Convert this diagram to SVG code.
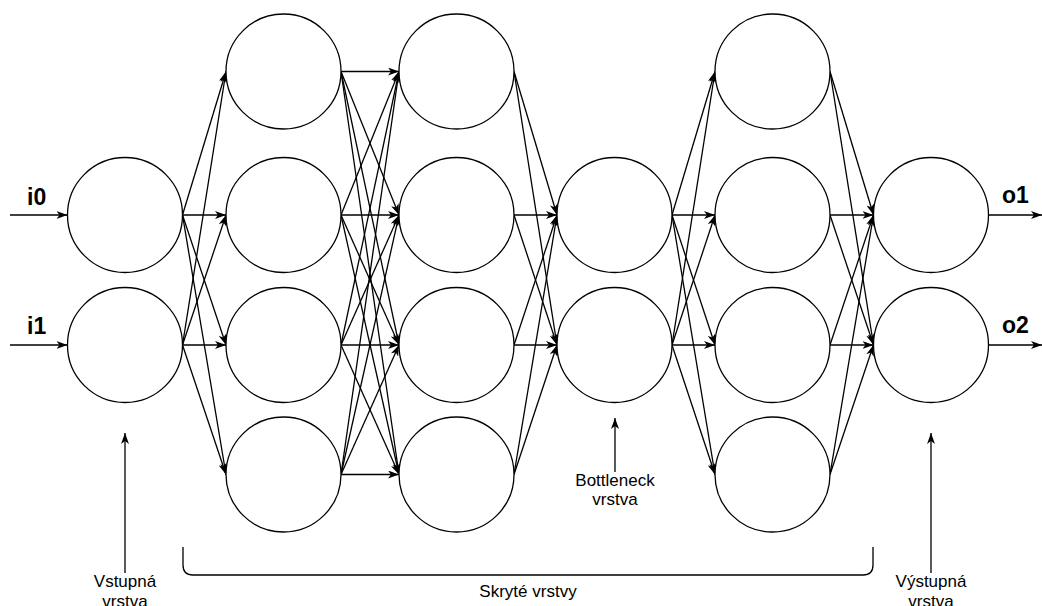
<svg xmlns="http://www.w3.org/2000/svg" width="1042" height="606" viewBox="0 0 1042 606">
<style>
.n{fill:#fff;stroke:#000;stroke-width:1.3}
.e{stroke:#000;stroke-width:1.3;fill:none;marker-end:url(#a)}
.b{font-family:"Liberation Sans",Arial,sans-serif;font-weight:bold;font-size:23px;fill:#000}
.t{font-family:"Liberation Sans",Arial,sans-serif;font-size:17px;fill:#000;text-anchor:middle}
</style>
<defs>
<marker id="a" viewBox="0 0 11 8" refX="11" refY="4" markerWidth="11" markerHeight="8" orient="auto" markerUnits="userSpaceOnUse">
<path d="M0,0 L11,4 L0,8 L3,4 z" fill="#000"/>
</marker>
</defs>
<rect width="1042" height="606" fill="#fff"/>
<g id="connectors">
<line class="e" x1="10" y1="215" x2="67.5" y2="215"/>
<line class="e" x1="10" y1="345" x2="67.5" y2="345"/>
<line class="e" x1="182.5" y1="215" x2="226" y2="71.5"/>
<line class="e" x1="182.5" y1="215" x2="226" y2="215"/>
<line class="e" x1="182.5" y1="215" x2="226" y2="345"/>
<line class="e" x1="182.5" y1="215" x2="226" y2="474.5"/>
<line class="e" x1="182.5" y1="345" x2="226" y2="71.5"/>
<line class="e" x1="182.5" y1="345" x2="226" y2="215"/>
<line class="e" x1="182.5" y1="345" x2="226" y2="345"/>
<line class="e" x1="182.5" y1="345" x2="226" y2="474.5"/>
<line class="e" x1="341" y1="71.5" x2="399" y2="71.5"/>
<line class="e" x1="341" y1="71.5" x2="399" y2="215"/>
<line class="e" x1="341" y1="71.5" x2="399" y2="345"/>
<line class="e" x1="341" y1="71.5" x2="399" y2="474.5"/>
<line class="e" x1="341" y1="215" x2="399" y2="71.5"/>
<line class="e" x1="341" y1="215" x2="399" y2="215"/>
<line class="e" x1="341" y1="215" x2="399" y2="345"/>
<line class="e" x1="341" y1="215" x2="399" y2="474.5"/>
<line class="e" x1="341" y1="345" x2="399" y2="71.5"/>
<line class="e" x1="341" y1="345" x2="399" y2="215"/>
<line class="e" x1="341" y1="345" x2="399" y2="345"/>
<line class="e" x1="341" y1="345" x2="399" y2="474.5"/>
<line class="e" x1="341" y1="474.5" x2="399" y2="71.5"/>
<line class="e" x1="341" y1="474.5" x2="399" y2="215"/>
<line class="e" x1="341" y1="474.5" x2="399" y2="345"/>
<line class="e" x1="341" y1="474.5" x2="399" y2="474.5"/>
<line class="e" x1="514" y1="71.5" x2="557" y2="215"/>
<line class="e" x1="514" y1="71.5" x2="557" y2="345"/>
<line class="e" x1="514" y1="215" x2="557" y2="215"/>
<line class="e" x1="514" y1="215" x2="557" y2="345"/>
<line class="e" x1="514" y1="345" x2="557" y2="215"/>
<line class="e" x1="514" y1="345" x2="557" y2="345"/>
<line class="e" x1="514" y1="474.5" x2="557" y2="215"/>
<line class="e" x1="514" y1="474.5" x2="557" y2="345"/>
<line class="e" x1="672" y1="215" x2="715" y2="71.5"/>
<line class="e" x1="672" y1="215" x2="715" y2="215"/>
<line class="e" x1="672" y1="215" x2="715" y2="345"/>
<line class="e" x1="672" y1="215" x2="715" y2="474.5"/>
<line class="e" x1="672" y1="345" x2="715" y2="71.5"/>
<line class="e" x1="672" y1="345" x2="715" y2="215"/>
<line class="e" x1="672" y1="345" x2="715" y2="345"/>
<line class="e" x1="672" y1="345" x2="715" y2="474.5"/>
<line class="e" x1="830" y1="71.5" x2="873.5" y2="215"/>
<line class="e" x1="830" y1="71.5" x2="873.5" y2="345"/>
<line class="e" x1="830" y1="215" x2="873.5" y2="215"/>
<line class="e" x1="830" y1="215" x2="873.5" y2="345"/>
<line class="e" x1="830" y1="345" x2="873.5" y2="215"/>
<line class="e" x1="830" y1="345" x2="873.5" y2="345"/>
<line class="e" x1="830" y1="474.5" x2="873.5" y2="215"/>
<line class="e" x1="830" y1="474.5" x2="873.5" y2="345"/>
<line class="e" x1="988.5" y1="215" x2="1042" y2="215"/>
<line class="e" x1="988.5" y1="345" x2="1042" y2="345"/>
<line class="e" x1="125" y1="573" x2="125" y2="433"/>
<line class="e" x1="615" y1="472" x2="615" y2="418"/>
<line class="e" x1="931" y1="573" x2="931" y2="433"/>
<path d="M183,547 L183,565 Q183,575 193,575 L863,575 Q873,575 873,565 L873,547" stroke="#000" stroke-width="1.3" fill="none"/>
</g>
<g id="in0"><circle class="n" cx="125" cy="215" r="57.5"/></g>
<g id="in1"><circle class="n" cx="125" cy="345" r="57.5"/></g>
<g id="h1a"><circle class="n" cx="283.5" cy="71.5" r="57.5"/></g>
<g id="h1b"><circle class="n" cx="283.5" cy="215" r="57.5"/></g>
<g id="h1c"><circle class="n" cx="283.5" cy="345" r="57.5"/></g>
<g id="h1d"><circle class="n" cx="283.5" cy="474.5" r="57.5"/></g>
<g id="h2a"><circle class="n" cx="456.5" cy="71.5" r="57.5"/></g>
<g id="h2b"><circle class="n" cx="456.5" cy="215" r="57.5"/></g>
<g id="h2c"><circle class="n" cx="456.5" cy="345" r="57.5"/></g>
<g id="h2d"><circle class="n" cx="456.5" cy="474.5" r="57.5"/></g>
<g id="bn0"><circle class="n" cx="614.5" cy="215" r="57.5"/></g>
<g id="bn1"><circle class="n" cx="614.5" cy="345" r="57.5"/></g>
<g id="h3a"><circle class="n" cx="772.5" cy="71.5" r="57.5"/></g>
<g id="h3b"><circle class="n" cx="772.5" cy="215" r="57.5"/></g>
<g id="h3c"><circle class="n" cx="772.5" cy="345" r="57.5"/></g>
<g id="h3d"><circle class="n" cx="772.5" cy="474.5" r="57.5"/></g>
<g id="out0"><circle class="n" cx="931" cy="215" r="57.5"/></g>
<g id="out1"><circle class="n" cx="931" cy="345" r="57.5"/></g>
<g id="labels">
<text class="b" x="27" y="205">i0</text>
<text class="b" x="27" y="334">i1</text>
<text class="b" x="1002" y="203">o1</text>
<text class="b" x="1002" y="333">o2</text>
<text class="t" x="125" y="587">Vstupná</text>
<text class="t" x="125" y="607">vrstva</text>
<text class="t" x="615" y="486">Bottleneck</text>
<text class="t" x="615" y="505">vrstva</text>
<text class="t" x="528" y="597">Skryté vrstvy</text>
<text class="t" x="931" y="587">Výstupná</text>
<text class="t" x="931" y="607">vrstva</text>
</g>
</svg>
